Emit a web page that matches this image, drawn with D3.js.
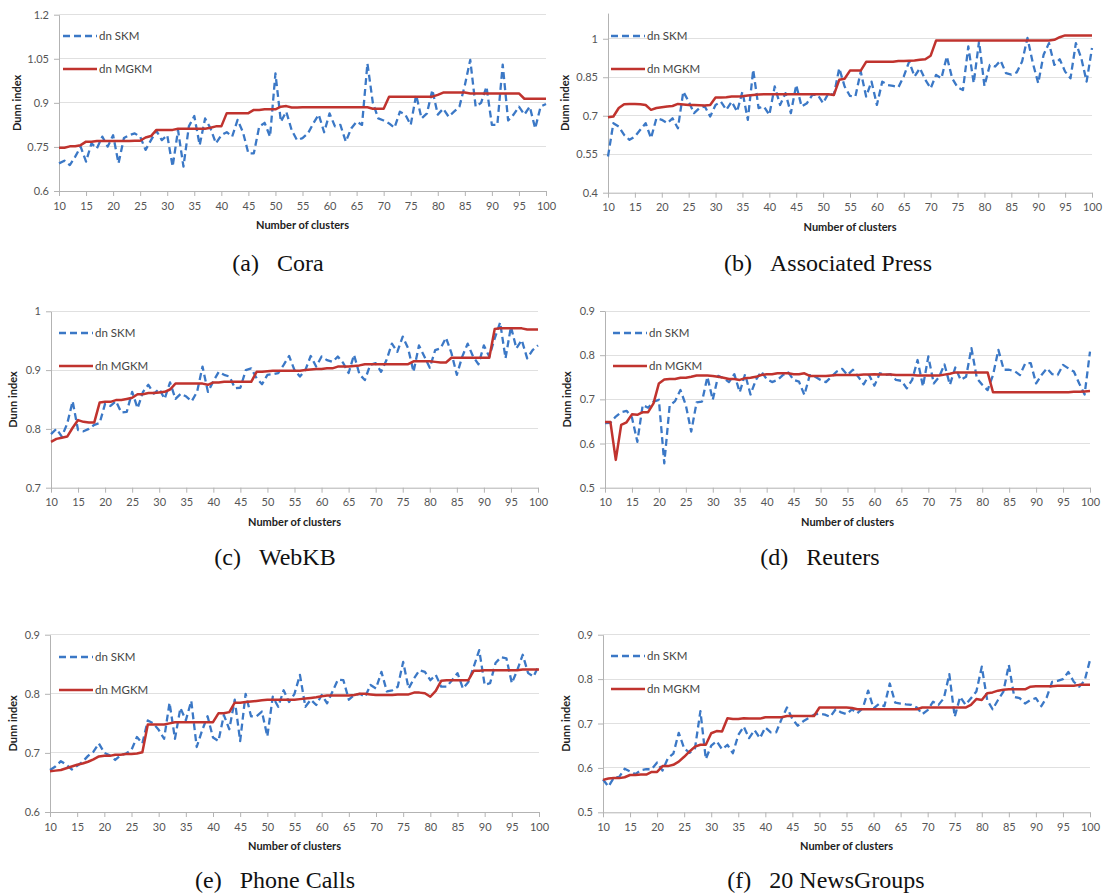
<!DOCTYPE html>
<html><head><meta charset="utf-8">
<script src="https://cdn.jsdelivr.net/npm/d3@7"></script>
<style>body{margin:0;background:#fff}</style>
</head><body>
<svg id="chart" width="1109" height="896"></svg>
<script>
const clusters = [10,11,12,13,14,15,16,17,18,19,20,21,22,23,24,25,26,27,28,29,30,31,32,33,34,35,36,37,38,39,40,41,42,43,44,45,46,47,48,49,50,51,52,53,54,55,56,57,58,59,60,61,62,63,64,65,66,67,68,69,70,71,72,73,74,75,76,77,78,79,80,81,82,83,84,85,86,87,88,89,90,91,92,93,94,95,96,97,98,99,100];
const xTickLabels = [10,15,20,25,30,35,40,45,50,55,60,65,70,75,80,85,90,95,100];
const seriesNames = ["dn SKM","dn MGKM"];
const xTitle = "Number of clusters";
const yTitle = "Dunn index";

// (a) Cora
const coraTicks = [0.6,0.75,0.9,1.05,1.2];
const coraSKM = [0.694,0.703,0.688,0.717,0.751,0.70,0.762,0.745,0.785,0.751,
0.79,0.694,0.78,0.79,0.796,0.785,0.74,0.773,0.805,0.773,
0.79,0.683,0.807,0.683,0.82,0.855,0.756,0.847,0.813,0.762,
0.79,0.80,0.785,0.842,0.80,0.728,0.728,0.819,0.832,0.785,
1.0,0.836,0.87,0.807,0.773,0.78,0.796,0.83,0.86,0.80,
0.864,0.82,0.825,0.768,0.813,0.836,0.825,1.034,0.90,0.847,
0.84,0.83,0.815,0.87,0.86,0.825,0.927,0.847,0.864,0.944,
0.86,0.88,0.853,0.87,0.887,0.96,1.046,0.887,0.90,0.955,
0.825,0.825,1.03,0.84,0.86,0.887,0.86,0.887,0.813,0.887,0.896];
const coraMGKM = [0.747,0.747,0.752,0.752,0.756,0.768,0.768,0.77,0.77,0.77,
0.77,0.77,0.77,0.77,0.771,0.771,0.782,0.787,0.808,0.808,
0.808,0.808,0.812,0.812,0.812,0.812,0.812,0.812,0.815,0.82,
0.82,0.865,0.865,0.865,0.865,0.865,0.876,0.876,0.878,0.878,
0.878,0.887,0.889,0.884,0.884,0.885,0.885,0.885,0.885,0.885,
0.885,0.885,0.885,0.885,0.885,0.885,0.885,0.885,0.88,0.88,
0.88,0.921,0.921,0.921,0.921,0.921,0.921,0.921,0.921,0.921,
0.927,0.935,0.935,0.935,0.935,0.935,0.932,0.932,0.932,0.932,
0.932,0.932,0.932,0.932,0.932,0.932,0.914,0.914,0.914,0.914,0.914];

// (b) Associated Press
const apTicks = [0.4,0.55,0.7,0.85,1];
const apSKM = [0.541,0.671,0.658,0.625,0.606,0.619,0.645,0.671,0.612,0.69,
0.684,0.671,0.69,0.651,0.794,0.755,0.71,0.73,0.736,0.697,
0.742,0.755,0.723,0.755,0.716,0.794,0.684,0.879,0.73,0.736,
0.703,0.814,0.742,0.788,0.71,0.82,0.736,0.749,0.781,0.781,
0.749,0.788,0.781,0.885,0.814,0.777,0.775,0.872,0.775,0.833,
0.742,0.833,0.82,0.816,0.811,0.853,0.911,0.853,0.885,0.84,
0.807,0.859,0.846,0.931,0.846,0.811,0.80,0.97,0.827,0.99,
0.816,0.898,0.892,0.915,0.866,0.86,0.869,0.911,1.003,0.905,
0.827,0.938,0.983,0.898,0.92,0.872,0.846,0.983,0.925,0.833,0.964];
const apMGKM = [0.694,0.697,0.73,0.745,0.746,0.746,0.745,0.742,0.723,0.73,
0.733,0.736,0.738,0.746,0.744,0.742,0.742,0.741,0.74,0.742,
0.771,0.771,0.772,0.775,0.775,0.776,0.779,0.781,0.783,0.784,
0.784,0.784,0.784,0.784,0.784,0.784,0.784,0.784,0.784,0.784,
0.784,0.784,0.781,0.84,0.844,0.876,0.876,0.876,0.91,0.91,
0.91,0.91,0.91,0.91,0.913,0.913,0.914,0.915,0.918,0.92,
0.934,0.993,0.993,0.993,0.993,0.993,0.993,0.993,0.993,0.993,
0.993,0.993,0.993,0.993,0.993,0.993,0.993,0.993,0.993,0.993,
0.993,0.993,0.993,0.996,1.006,1.013,1.013,1.013,1.013,1.013,1.013];

// (c) WebKB
const webkbTicks = [0.7,0.8,0.9,1];
const webkbSKM = [0.791,0.80,0.787,0.809,0.847,0.798,0.796,0.80,0.807,0.81,
0.843,0.839,0.847,0.828,0.829,0.863,0.835,0.863,0.875,0.86,
0.868,0.851,0.879,0.851,0.86,0.855,0.847,0.863,0.906,0.863,
0.881,0.897,0.892,0.889,0.869,0.87,0.90,0.903,0.886,0.876,
0.892,0.893,0.895,0.909,0.924,0.90,0.889,0.90,0.924,0.906,
0.923,0.917,0.914,0.923,0.912,0.895,0.926,0.893,0.883,0.909,
0.912,0.897,0.917,0.945,0.931,0.957,0.937,0.897,0.942,0.923,
0.904,0.934,0.937,0.955,0.929,0.892,0.923,0.945,0.923,0.91,
0.942,0.923,0.954,0.981,0.92,0.974,0.937,0.951,0.92,0.934,0.942];
const webkbMGKM = [0.778,0.783,0.785,0.787,0.802,0.815,0.812,0.811,0.811,0.845,
0.846,0.846,0.849,0.849,0.851,0.853,0.859,0.859,0.861,0.861,
0.862,0.863,0.867,0.877,0.877,0.877,0.877,0.877,0.877,0.875,
0.879,0.879,0.88,0.88,0.88,0.88,0.88,0.88,0.897,0.897,
0.898,0.899,0.899,0.899,0.899,0.899,0.899,0.9,0.901,0.902,
0.902,0.903,0.903,0.906,0.906,0.906,0.907,0.908,0.91,0.91,
0.91,0.91,0.91,0.91,0.91,0.91,0.91,0.915,0.915,0.915,
0.915,0.914,0.913,0.913,0.921,0.921,0.921,0.921,0.921,0.921,
0.921,0.921,0.97,0.971,0.971,0.971,0.971,0.971,0.969,0.969,0.969];

// (d) Reuters
const reutersTicks = [0.5,0.6,0.7,0.8,0.9];
const reutersSKM = [0.646,0.647,0.661,0.671,0.674,0.659,0.604,0.687,0.681,0.695,
0.699,0.555,0.686,0.696,0.721,0.687,0.627,0.693,0.695,0.751,
0.699,0.753,0.748,0.739,0.757,0.716,0.757,0.711,0.744,0.763,
0.746,0.739,0.744,0.755,0.761,0.744,0.74,0.71,0.755,0.751,
0.744,0.739,0.751,0.763,0.769,0.755,0.767,0.751,0.734,0.755,
0.731,0.759,0.755,0.757,0.744,0.742,0.725,0.744,0.789,0.729,
0.797,0.736,0.751,0.779,0.733,0.772,0.744,0.751,0.816,0.748,
0.733,0.721,0.755,0.812,0.767,0.767,0.764,0.755,0.782,0.782,
0.736,0.755,0.77,0.757,0.755,0.778,0.77,0.763,0.736,0.711,0.808];
const reutersMGKM = [0.649,0.649,0.563,0.642,0.648,0.666,0.665,0.671,0.671,0.691,
0.736,0.745,0.746,0.746,0.749,0.749,0.751,0.754,0.754,0.754,
0.753,0.751,0.749,0.746,0.746,0.744,0.748,0.749,0.751,0.755,
0.757,0.757,0.759,0.759,0.759,0.757,0.757,0.759,0.753,0.753,
0.753,0.753,0.754,0.755,0.755,0.755,0.755,0.755,0.756,0.756,
0.757,0.756,0.756,0.756,0.755,0.755,0.755,0.755,0.754,0.754,
0.754,0.754,0.754,0.756,0.758,0.761,0.761,0.761,0.761,0.761,
0.761,0.761,0.716,0.716,0.716,0.716,0.716,0.716,0.716,0.716,
0.716,0.716,0.716,0.716,0.716,0.716,0.716,0.717,0.717,0.718,0.719];

// (e) Phone Calls
const phoneTicks = [0.6,0.7,0.8,0.9];
const phoneSKM = [0.671,0.677,0.686,0.68,0.672,0.678,0.685,0.695,0.702,0.716,
0.70,0.696,0.688,0.696,0.699,0.705,0.727,0.716,0.755,0.75,
0.739,0.724,0.785,0.724,0.776,0.755,0.788,0.71,0.738,0.762,
0.726,0.72,0.764,0.74,0.79,0.72,0.80,0.762,0.762,0.77,
0.728,0.795,0.778,0.806,0.786,0.80,0.832,0.778,0.79,0.781,
0.798,0.784,0.804,0.824,0.823,0.79,0.798,0.80,0.795,0.815,
0.809,0.837,0.804,0.806,0.812,0.854,0.809,0.826,0.84,0.837,
0.823,0.832,0.812,0.812,0.823,0.835,0.809,0.82,0.846,0.874,
0.815,0.818,0.852,0.862,0.86,0.818,0.84,0.866,0.835,0.829,0.849];
const phoneMGKM = [0.669,0.67,0.671,0.674,0.677,0.68,0.682,0.685,0.689,0.694,
0.695,0.695,0.697,0.697,0.698,0.698,0.699,0.701,0.748,0.748,
0.748,0.748,0.75,0.752,0.752,0.752,0.752,0.752,0.752,0.752,
0.752,0.767,0.767,0.769,0.785,0.785,0.786,0.787,0.788,0.789,
0.79,0.79,0.79,0.79,0.79,0.79,0.791,0.792,0.793,0.794,
0.796,0.797,0.797,0.797,0.797,0.797,0.798,0.80,0.80,0.799,
0.798,0.798,0.798,0.798,0.799,0.799,0.799,0.802,0.802,0.801,
0.795,0.805,0.822,0.823,0.823,0.823,0.823,0.823,0.839,0.839,
0.84,0.84,0.84,0.84,0.84,0.84,0.84,0.841,0.841,0.841,0.841];

// (f) 20 NewsGroups
const ngTicks = [0.5,0.6,0.7,0.8,0.9];
const ngSKM = [0.574,0.558,0.578,0.58,0.598,0.592,0.586,0.595,0.597,0.597,
0.612,0.594,0.622,0.632,0.679,0.644,0.634,0.644,0.728,0.62,
0.65,0.66,0.642,0.652,0.633,0.674,0.693,0.667,0.685,0.667,
0.691,0.68,0.68,0.71,0.736,0.71,0.695,0.705,0.712,0.72,
0.722,0.72,0.715,0.732,0.725,0.721,0.732,0.723,0.734,0.774,
0.734,0.744,0.739,0.79,0.747,0.745,0.743,0.742,0.736,0.721,
0.73,0.749,0.742,0.757,0.811,0.715,0.76,0.742,0.757,0.772,
0.828,0.753,0.732,0.753,0.772,0.832,0.76,0.757,0.745,0.753,
0.757,0.739,0.759,0.794,0.796,0.80,0.816,0.794,0.783,0.796,0.843];
const ngMGKM = [0.573,0.576,0.577,0.577,0.579,0.584,0.584,0.585,0.585,0.591,
0.591,0.604,0.604,0.607,0.614,0.625,0.637,0.648,0.652,0.652,
0.678,0.683,0.682,0.712,0.71,0.71,0.712,0.711,0.711,0.711,
0.714,0.714,0.714,0.714,0.717,0.717,0.717,0.717,0.717,0.717,
0.736,0.736,0.736,0.736,0.736,0.736,0.735,0.732,0.732,0.732,
0.732,0.732,0.732,0.732,0.732,0.732,0.732,0.732,0.732,0.736,
0.736,0.736,0.736,0.736,0.736,0.736,0.736,0.736,0.742,0.755,
0.753,0.768,0.77,0.774,0.776,0.777,0.777,0.777,0.777,0.783,
0.784,0.784,0.784,0.784,0.785,0.785,0.785,0.785,0.787,0.787,0.787];

const captionTags = ["(a)","(b)","(c)","(d)","(e)","(f)"];
const captionNames = ["Cora","Associated Press","WebKB","Reuters","Phone Calls","20 NewsGroups"];

const panels = [
  {i:0, skm:coraSKM, mgkm:coraMGKM, ticks:coraTicks, dom:[0.6,1.2], x0:59, x1:546, yb:191, yt:14.7, ytx:17, legX:63, legY:36, capX:278, capY:271},
  {i:1, skm:apSKM, mgkm:apMGKM, ticks:apTicks, dom:[0.4,1.1], x0:608, x1:1092, yb:192.7, yt:13.1, ytx:565, legX:611, legY:36, capX:828, capY:271},
  {i:2, skm:webkbSKM, mgkm:webkbMGKM, ticks:webkbTicks, dom:[0.7,1.0], x0:51, x1:538, yb:487.7, yt:311.3, ytx:13, legX:59, legY:333, capX:275, capY:565},
  {i:3, skm:reutersSKM, mgkm:reutersMGKM, ticks:reutersTicks, dom:[0.5,0.9], x0:605, x1:1090, yb:487.7, yt:311, ytx:567, legX:613, legY:333, capX:820, capY:565},
  {i:4, skm:phoneSKM, mgkm:phoneMGKM, ticks:phoneTicks, dom:[0.6,0.9], x0:50, x1:539, yb:812, yt:634.7, ytx:13, legX:59, legY:657, capX:275, capY:888},
  {i:5, skm:ngSKM, mgkm:ngMGKM, ticks:ngTicks, dom:[0.5,0.9], x0:603, x1:1090, yb:812.3, yt:634.7, ytx:566, legX:611, legY:656, capX:826, capY:888}
];

const BLUE = "#3b78c6", RED = "#c0332e";
const tickFont = "Lato, 'Open Sans', sans-serif";
const svg = d3.select("#chart");

panels.forEach(p => {
  const g = svg.append("g");
  const x = d3.scaleLinear().domain([clusters[0], clusters[clusters.length-1]]).range([p.x0, p.x1]);
  const y = d3.scaleLinear().domain(p.dom).range([p.yb, p.yt]);

  g.append("g").selectAll("line").data(p.ticks.filter(t => t > p.dom[0])).join("line")
    .attr("x1", p.x0).attr("x2", p.x1)
    .attr("y1", d => y(d)).attr("y2", d => y(d))
    .attr("stroke", "#e0e0e0").attr("stroke-width", 1).attr("shape-rendering","crispEdges");

  const ya = g.append("g").attr("transform", `translate(${p.x0},0)`)
    .call(d3.axisLeft(y).tickValues(p.ticks).tickSize(5).tickSizeOuter(0).tickPadding(5).tickFormat(d => String(d)));
  ya.select(".domain").attr("stroke", "#b3b3b3");
  ya.selectAll(".tick line").attr("stroke", "#b3b3b3");
  ya.selectAll("text").attr("fill", "#555").style("font-family", tickFont).style("font-size", "11px");

  const xa = g.append("g").attr("transform", `translate(0,${p.yb})`)
    .call(d3.axisBottom(x).tickValues(xTickLabels).tickSize(5).tickSizeOuter(0).tickPadding(6).tickFormat(d => String(d)));
  xa.select(".domain").attr("stroke", "#b3b3b3");
  xa.selectAll(".tick line").attr("stroke", "#b3b3b3");
  xa.selectAll("text").attr("fill", "#555").style("font-family", tickFont).style("font-size", "11px");

  const line = d3.line().x((d, i) => x(clusters[i])).y(d => y(d));
  g.append("path").datum(p.skm).attr("d", line).attr("fill", "none")
    .attr("stroke", BLUE).attr("stroke-width", 2.3).attr("stroke-dasharray", "7,4").attr("stroke-linejoin","round");
  g.append("path").datum(p.mgkm).attr("d", line).attr("fill", "none")
    .attr("stroke", RED).attr("stroke-width", 2.5).attr("stroke-linejoin","round");

  const leg = g.append("g");
  leg.append("line").attr("x1", p.legX).attr("x2", p.legX + 34).attr("y1", p.legY).attr("y2", p.legY)
    .attr("stroke", BLUE).attr("stroke-width", 2.3).attr("stroke-dasharray", "7,4");
  leg.append("line").attr("x1", p.legX).attr("x2", p.legX + 34).attr("y1", p.legY + 33).attr("y2", p.legY + 33)
    .attr("stroke", RED).attr("stroke-width", 2.5);
  leg.selectAll("text").data(seriesNames).join("text")
    .attr("x", p.legX + 36).attr("y", (d, i) => p.legY + i * 33).attr("dy", "0.35em")
    .attr("fill", "#444").style("font-family", tickFont).style("font-size", "11.5px").text(d => d);

  g.append("text").attr("x", (p.x0 + p.x1) / 2).attr("y", p.yb + 38).attr("text-anchor", "middle")
    .style("font-family", tickFont).style("font-weight", "bold").style("font-size", "11px").attr("fill", "#222").text(xTitle);
  g.append("text").attr("transform", `translate(${p.ytx},${(p.yb + p.yt) / 2}) rotate(-90)`).attr("dy", "0.35em")
    .attr("text-anchor", "middle").style("font-family", tickFont).style("font-weight", "bold").style("font-size", "11px")
    .attr("fill", "#222").text(yTitle);

  const cap = g.append("text").attr("x", p.capX).attr("y", p.capY).attr("text-anchor", "middle")
    .style("font-family", "'Liberation Serif', 'Times New Roman', serif").style("font-size", "24px").attr("fill", "#111");
  cap.append("tspan").text(captionTags[p.i]);
  cap.append("tspan").attr("dx", 18).text(captionNames[p.i]);
});
</script>
</body></html>
